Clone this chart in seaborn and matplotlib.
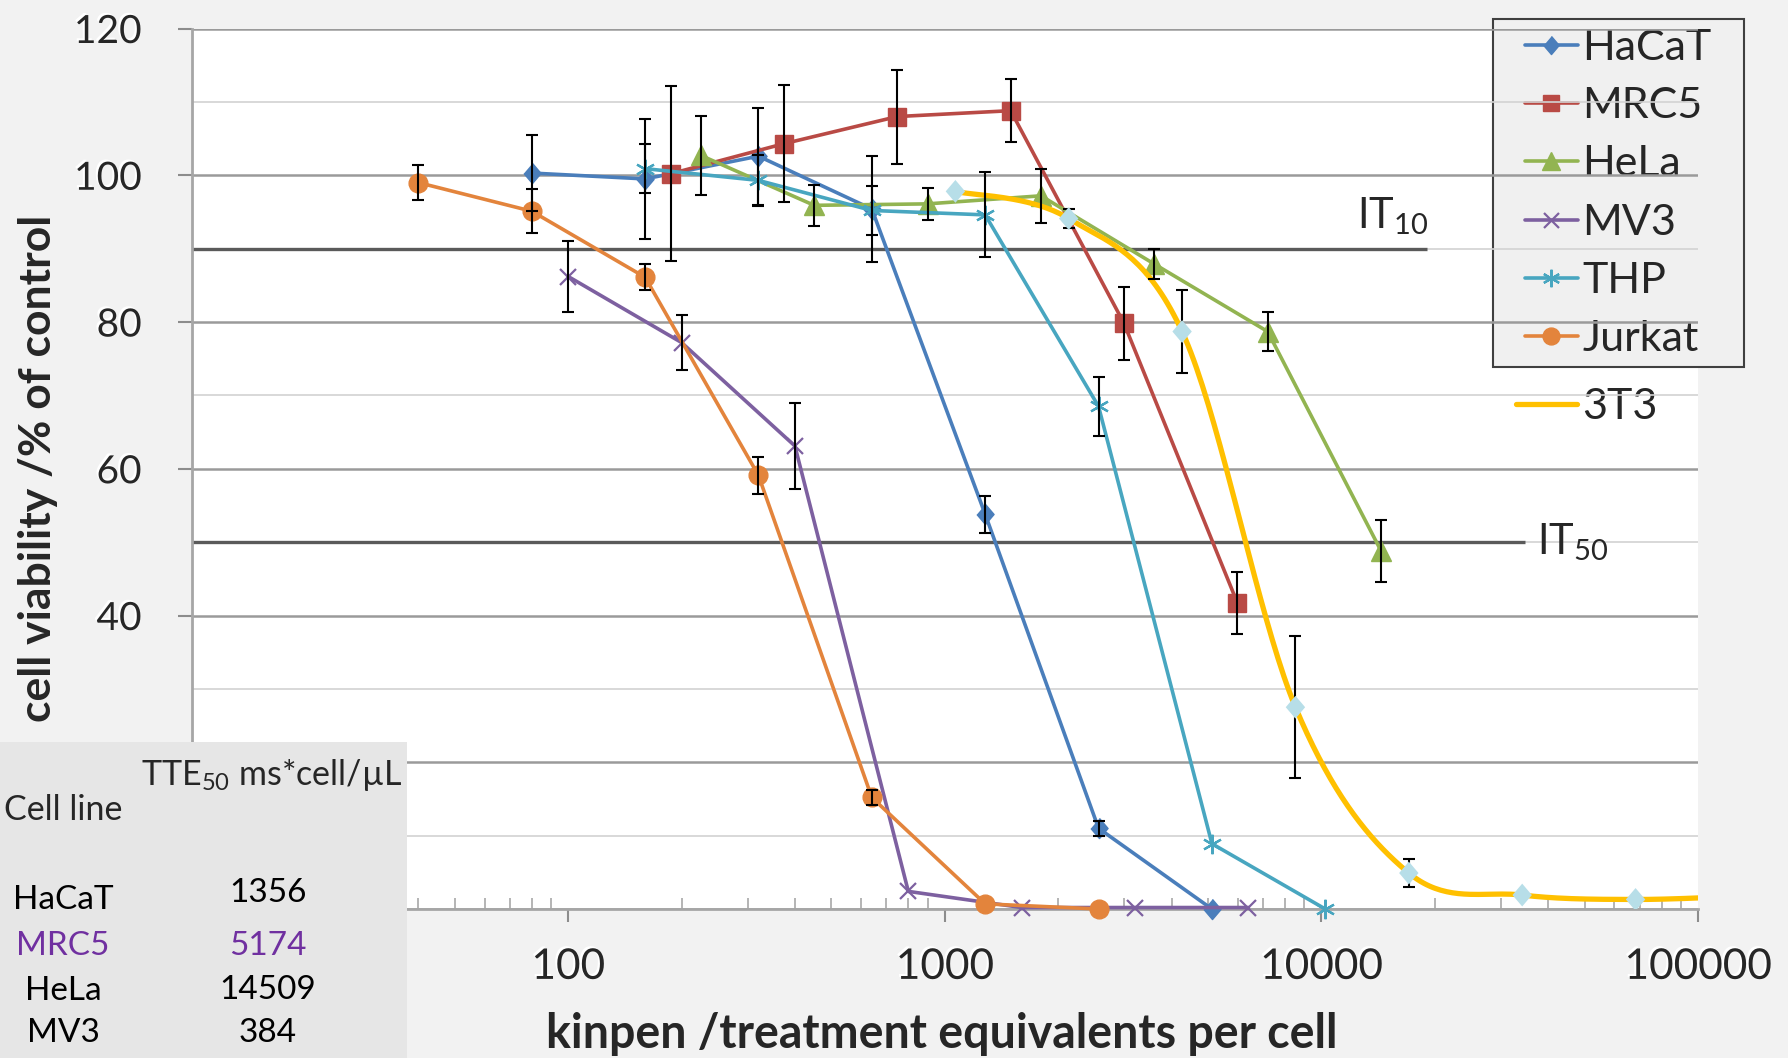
import numpy as np
import pandas as pd
import matplotlib
matplotlib.use("Agg")
import matplotlib.pyplot as plt
import seaborn as sns
from matplotlib.patches import Rectangle
from matplotlib import patheffects as pe
from matplotlib.ticker import LogLocator, NullFormatter

# ---------------- data ----------------
hacat_x = [80, 160, 320, 640, 1280, 2560, 5120]
hacat_y = [100.3, 99.5, 102.6, 95.4, 53.8, 11.0, 0.0]
hacat_err = [5.2, 8.2, 6.6, 7.2, 2.5, 1.0, 0]

mrc5_x = [187, 374, 748, 1496, 2992, 5984]
mrc5_y = [100.2, 104.3, 108.0, 108.8, 79.8, 41.7]
mrc5_err = [11.9, 8.0, 6.4, 4.3, 5.0, 4.2]

hela_x = [225, 450, 900, 1800, 3600, 7200, 14400]
hela_y = [102.7, 95.9, 96.1, 97.2, 87.9, 78.7, 48.8]
hela_err = [5.4, 2.8, 2.2, 3.7, 2.1, 2.7, 4.2]

mv3_x = [100, 200, 400, 800, 1600, 3200, 6400]
mv3_y = [86.2, 77.2, 63.1, 2.4, 0.2, 0.2, 0.2]
mv3_err = [4.85, 3.7, 5.8, 0, 0, 0, 0]

thp_x = [160, 320, 640, 1280, 2560, 5120, 10240]
thp_y = [100.9, 99.3, 95.2, 94.6, 68.5, 8.9, 0.0]
thp_err = [3.3, 3.5, 3.4, 5.8, 4.0, 0, 0]

jurkat_x = [40, 80, 160, 320, 640, 1280, 2560]
jurkat_y = [99.0, 95.1, 86.1, 59.1, 15.2, 0.7, 0.0]
jurkat_err = [2.4, 3.0, 1.8, 2.5, 1.0, 0, 0]

t3t3_x = [1067, 2133, 4267, 8533, 17067, 34133, 68267, 136533]
t3t3_y = [97.8, 94.1, 78.7, 27.5, 4.9, 1.9, 1.3, 1.8]
t3t3_err = [0, 1.3, 5.7, 9.7, 1.9, 0, 0, 0]

it_levels = [90, 50]
it_ends = [19100, 34750]
it_names = ["IT$_\\mathregular{10}$", "IT$_\\mathregular{50}$"]

x_ticks = [10, 100, 1000, 10000, 100000]
x_ticklabels = ["10", "100", "1000", "10000", "100000"]
y_ticks = [0, 20, 40, 60, 80, 100, 120]

table_lines = ["HaCaT", "MRC5", "HeLa", "MV3"]
table_tte = ["1356", "5174", "14509", "384"]

# ---------------- style ----------------
sns.set_theme(style="white")
plt.rcParams["font.family"] = ["Lato", "DejaVu Sans"]
plt.rcParams["mathtext.fontset"] = "custom"
plt.rcParams["mathtext.rm"] = "Lato"
plt.rcParams["mathtext.it"] = "Lato:italic"
plt.rcParams["mathtext.bf"] = "Lato:bold"

W, H = 1788, 1058
fig = plt.figure(figsize=(W / 100, H / 100), dpi=100, facecolor="#f2f2f2")
ax = fig.add_axes([191.6 / W, 1 - 909 / H, (1698 - 191.6) / W, (909 - 28.5) / H])
ax.set_facecolor("white")
ax.set_xscale("log")
ax.set_xlim(10, 100000)
ax.set_ylim(0, 120)

diamond = [(0, 1), (0.85, 0), (0, -1), (-0.85, 0)]
series = [
    ("HaCaT", hacat_x, hacat_y, hacat_err, "#4a7ebb", diamond, 14.5, 1.0),
    ("MRC5", mrc5_x, mrc5_y, mrc5_err, "#b94a45", "s", 13.0, 1.0),
    ("HeLa", hela_x, hela_y, hela_err, "#92b451", "^", 14.0, 1.0),
    ("MV3", mv3_x, mv3_y, mv3_err, "#7d60a0", "x", 12.0, 1.6),
    ("THP", thp_x, thp_y, thp_err, "#48a6c0", (6, 2, 0), 14.0, 1.6),
    ("Jurkat", jurkat_x, jurkat_y, jurkat_err, "#e3843c", "o", 13.5, 1.0),
]

handles = []
for name, xs, ys, errs, col, mk, ms, mew in series:
    sns.lineplot(x=xs, y=ys, ax=ax, color=col, marker=mk, markersize=ms,
                 markeredgecolor=col, markerfacecolor=col, markeredgewidth=mew,
                 lw=2.6, estimator=None, sort=False, errorbar=None,
                 legend=False, clip_on=False, zorder=3, label=name)
    handles.append(ax.lines[-1])

for name, xs, ys, errs, col, mk, ms, mew in series:
    xa, ya, ea = np.array(xs, float), np.array(ys, float), np.array(errs, float)
    m = ea > 0
    ax.errorbar(xa[m], ya[m], yerr=ea[m], fmt="none", ecolor="black",
                elinewidth=1.5, capsize=4, capthick=1.5, zorder=4, clip_on=False)


def excel_smooth(xs, ys, n=40):
    u = np.log10(np.asarray(xs, float)) * 331.0
    v = np.asarray(ys, float) * 6.433
    P = np.column_stack([u, v])
    out = []
    t = np.linspace(0, 1, n)[:, None]
    for i in range(len(P) - 1):
        p0 = P[i - 1] if i > 0 else P[i]
        p1, p2 = P[i], P[i + 1]
        p3 = P[i + 2] if i + 2 < len(P) else P[i + 1]
        c1 = p1 + (p2 - p0) / 6
        c2 = p2 - (p3 - p1) / 6
        seg = (1 - t) ** 3 * p1 + 3 * (1 - t) ** 2 * t * c1 + 3 * (1 - t) * t ** 2 * c2 + t ** 3 * p2
        out.append(seg if i == 0 else seg[1:])
    C = np.vstack(out)
    return 10 ** (C[:, 0] / 331.0), C[:, 1] / 6.433


cx, cy = excel_smooth(t3t3_x, t3t3_y)
sns.lineplot(x=cx, y=cy, ax=ax, color="#ffc000", lw=3.8, estimator=None, sort=False,
             errorbar=None, legend=False, zorder=3.5, label="3T3")
h3t3 = ax.lines[-1]
sns.scatterplot(x=t3t3_x, y=t3t3_y, ax=ax, marker=diamond, s=270, color="#b7dee8",
                edgecolor="none", zorder=4.5, legend=False)
ta, tb, tc = np.array(t3t3_x, float), np.array(t3t3_y, float), np.array(t3t3_err, float)
m = tc > 0
ax.errorbar(ta[m], tb[m], yerr=tc[m], fmt="none", ecolor="black",
            elinewidth=1.5, capsize=4, capthick=1.5, zorder=4)

# IT lines
ax.hlines(it_levels, 10, it_ends, colors="#5a5a5a", lw=2.4, zorder=1.8)
fig.text(1357 / W, 1 - 228 / H, it_names[0], fontsize=30, va="baseline", ha="left")
fig.text(1537 / W, 1 - 554 / H, it_names[1], fontsize=30, va="baseline", ha="left")

# axes styling
ax.set_axisbelow("line")
ax.set_yticks(y_ticks)
ax.set_yticks(np.arange(10, 120, 20), minor=True)
ax.grid(which="major", axis="y", color="#9a9a9a", lw=1.8)
ax.grid(which="minor", axis="y", color="#d2d2d2", lw=1.2)
ax.grid(axis="x", visible=False)
ax.set_xticks(x_ticks)
ax.set_xticklabels(x_ticklabels)
ax.xaxis.set_minor_locator(LogLocator(base=10, subs=np.arange(2, 10)))
ax.xaxis.set_minor_formatter(NullFormatter())
ax.tick_params(axis="x", which="major", direction="out", length=9, width=1.5,
               color="#8c8c8c", pad=19, labelsize=30.5, bottom=True)
ax.tick_params(axis="x", which="minor", direction="in", length=8, width=1.2,
               color="#a8a8a8", bottom=True)
ax.tick_params(axis="y", which="major", direction="out", length=10, width=1.5,
               color="#8c8c8c", pad=26, labelsize=28, left=True)
ax.tick_params(axis="y", which="minor", length=0)
for side in ("top", "right"):
    ax.spines[side].set_visible(False)
for side in ("left", "bottom"):
    ax.spines[side].set_color("#a6a6a6")
    ax.spines[side].set_linewidth(2)
shadow = [pe.withSimplePatchShadow(offset=(-1.5, 1.5), shadow_rgbFace="white", alpha=1.0)]
for lab in ax.get_xticklabels() + ax.get_yticklabels():
    lab.set_path_effects(shadow)

ax.set_xlabel("kinpen /treatment equivalents per cell", fontsize=33.5, fontweight="bold")
ax.xaxis.label.set_va("center")
ax.xaxis.set_label_coords(0.498, -0.1420)
ax.set_ylabel("cell viability /% of control", fontsize=32, fontweight="bold")
ax.yaxis.label.set_va("center")
ax.yaxis.set_label_coords(-0.1022, 0.50)

# legend
ax.add_patch(Rectangle((1493 / W, 1 - 367 / H), (1744 - 1493) / W, (367 - 19) / H,
                       transform=fig.transFigure, facecolor="#f0f0f0",
                       edgecolor="#404040", lw=1.5, clip_on=False, zorder=1))
leg = ax.legend(handles=handles, labels=[s[0] for s in series], loc="upper left",
                bbox_to_anchor=(1525 / W, 1 - 29 / H), bbox_transform=fig.transFigure,
                borderaxespad=0, borderpad=0, frameon=False, fontsize=31,
                handlelength=1.23, handletextpad=0.1, labelspacing=0.47,
                markerscale=0.9)
leg.set_zorder(1.2)
ax.add_artist(leg)
leg2 = ax.legend(handles=[h3t3], labels=["3T3"], loc="upper left",
                 bbox_to_anchor=(1516 / W, 1 - 388 / H), bbox_transform=fig.transFigure,
                 borderaxespad=0, borderpad=0, frameon=False, fontsize=31,
                 handlelength=1.42, handletextpad=0.12)
leg2.set_zorder(1.2)

# table overlay
fig.add_artist(Rectangle((0, 0), 407 / W, 1 - 742 / H, transform=fig.transFigure,
                         facecolor="#e6e6e6", edgecolor="none", zorder=10))
fig.text(4.5 / W, 1 - 810 / H, "Cell line", fontsize=24.5, ha="left", va="center", zorder=11)
fig.text(141 / W, 1 - 785 / H, "TTE$_\\mathregular{50}$ ms*cell/µL", fontsize=24.5,
         ha="left", va="baseline", zorder=11)
name_y = [900, 946, 990.7, 1033]
val_y = [892.7, 946, 990, 1033]
for i, (nm, val) in enumerate(zip(table_lines, table_tte)):
    col = "#7030a0" if nm == "MRC5" else "black"
    fig.text(63 / W, 1 - name_y[i] / H, nm, fontsize=24, ha="center", va="center",
             color=col, zorder=11)
    fig.text(268 / W, 1 - val_y[i] / H, val, fontsize=24, ha="center", va="center",
             color=col, zorder=11)

fig.savefig("out.png", dpi=100, facecolor=fig.get_facecolor())
